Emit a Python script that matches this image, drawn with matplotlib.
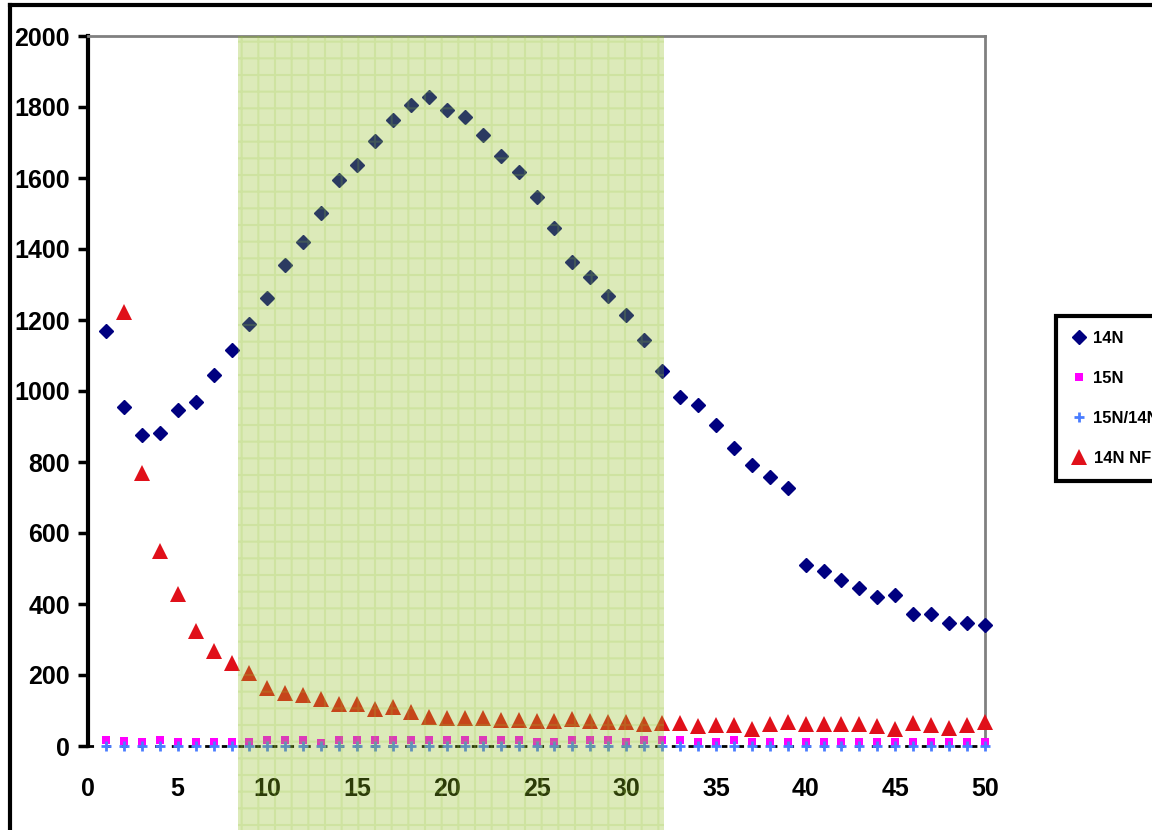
import numpy as np
import matplotlib
matplotlib.use('Agg')
import matplotlib.pyplot as plt
from matplotlib.patches import Rectangle
from matplotlib.lines import Line2D
import matplotlib.transforms as mtransforms

plt.rcParams['font.family'] = ['Liberation Sans Narrow', 'Liberation Sans', 'DejaVu Sans']
plt.rcParams['font.weight'] = 'bold'
plt.rcParams['hatch.linewidth'] = 1.5

# data
x = np.arange(1, 51)

n14 = [1170, 955, 876, 882, 946, 969, 1045, 1115, 1189, 1262,
       1355, 1420, 1501, 1594, 1637, 1704, 1763, 1806, 1828, 1792,
       1772, 1721, 1662, 1617, 1547, 1459, 1363, 1321, 1268, 1214,
       1144, 1056, 983, 961, 904, 839, 792, 758, 727, 510,
       493, 468, 445, 420, 425, 372, 372, 346, 346, 341]

n14_nf = [None, 1223, 769, 549, 428, 324, 268, 234, 206, 163,
          149, 144, 132, 118, 118, 104, 110, 96, 82, 79,
          79, 79, 73, 73, 70, 70, 76, 70, 68, 68,
          62, 65, 65, 56, 59, 59, 48, 62, 68, 62,
          62, 62, 62, 56, 48, 65, 59, 51, 59, 68]

n15 = [16, 15, 10, 16, 10, 10, 10, 10, 10, 16,
       16, 16, 8, 16, 16, 16, 16, 16, 16, 16,
       16, 16, 16, 16, 10, 10, 16, 16, 16, 10,
       16, 16, 16, 10, 10, 17, 10, 10, 10, 10,
       10, 10, 10, 10, 10, 10, 10, 10, 10, 10]

ratio = [0.01] * 50

series_labels = ['14N', '15N', '15N/14N', '14N NF']
shade_start, shade_end = 8.36, 32.1

n14_nf = np.array([np.nan if v is None else v for v in n14_nf], dtype=float)

fig = plt.figure(figsize=(11.52, 8.3), dpi=100)
ax = fig.add_axes([88/1152, 1 - 746/830, (985-88)/1152, (746-36)/830])

ax.hlines(0, 0, 50, colors='black', linestyles=(0, (2, 4)), linewidth=2, zorder=2, clip_on=False)

h1, = ax.plot(x, n14, 'D', color='#000080', ms=7, mec='#000080', ls='none', clip_on=False, zorder=3)
h2, = ax.plot(x, n15, 's', color='#ff00ff', ms=5.5, mew=0, ls='none', clip_on=False, zorder=3)
h3, = ax.plot(x, ratio, '+', color='#4a7dff', ms=7, mew=2, ls='none', clip_on=False, zorder=3)
h4, = ax.plot(x, n14_nf, '^', color='#e0101a', ms=12, mew=0, ls='none', clip_on=False, zorder=3)

# green shaded region, runs past the bottom of the axes
trans = mtransforms.blended_transform_factory(ax.transData, ax.transAxes)
ax.add_patch(Rectangle((shade_start, -0.12), shade_end - shade_start, 1.12, transform=trans,
                       facecolor=(142/255, 190/255, 29/255), alpha=0.31, edgecolor='none',
                       clip_on=False, zorder=5))
ax.add_patch(Rectangle((shade_start, -0.12), shade_end - shade_start, 1.12, transform=trans,
                       facecolor='none', edgecolor=(150/255, 200/255, 60/255), alpha=0.2, lw=0,
                       hatch='+', clip_on=False, zorder=5))

ax.set_xlim(0, 50)
ax.set_ylim(0, 2000)
ax.set_xticks(range(0, 51, 5))
ax.set_yticks(range(0, 2001, 200))
ax.tick_params(axis='x', length=0, pad=22, labelsize=18)
ax.tick_params(axis='y', length=7, width=2.5, pad=6, labelsize=18, color='black')

ax.spines['left'].set_linewidth(3)
ax.spines['left'].set_color('black')
for s in ['top', 'right']:
    ax.spines[s].set_linewidth(2)
    ax.spines[s].set_color('#808080')
ax.spines['bottom'].set_visible(False)

leg = fig.legend([h1, h2, h3, h4], series_labels, loc='upper left',
                 bbox_to_anchor=(1056/1152, 1 - 316/830), borderaxespad=0, fontsize=12,
                 fancybox=False, framealpha=1, edgecolor='black',
                 borderpad=0.9, labelspacing=1.5, handlelength=1.0, handletextpad=0.35)
leg.get_frame().set_linewidth(3)

# outer frame of the picture
fig.add_artist(Line2D([10/1152, 1], [1 - 5/830, 1 - 5/830], color='black', lw=3, transform=fig.transFigure))
fig.add_artist(Line2D([10/1152, 10/1152], [0, 1 - 5/830], color='black', lw=3, transform=fig.transFigure))

fig.savefig('out.png', dpi=100)
